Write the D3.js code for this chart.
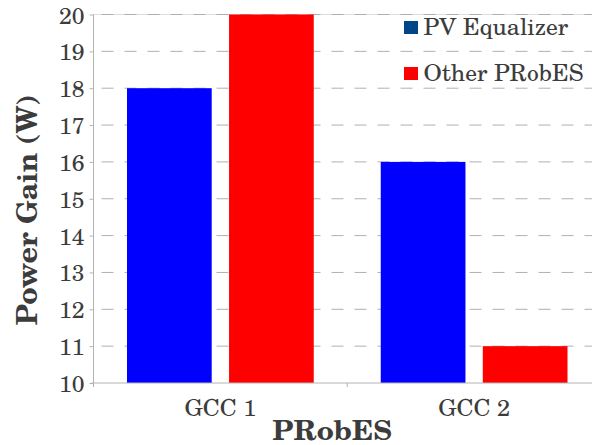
<!DOCTYPE html>
<html><head><meta charset="utf-8">
<script src="https://cdn.jsdelivr.net/npm/d3@7"></script>
<style>
html,body{margin:0;padding:0;background:#fff;}
svg{display:block;}
</style></head>
<body>
<script>
const categories = ["GCC 1", "GCC 2"];
const seriesNames = ["PV Equalizer", "Other PRobES"];
const pvEqualizer = [18, 16];
const otherPRobES = [20, 11];
const yTicks = [10, 11, 12, 13, 14, 15, 16, 17, 18, 19, 20];
const barColors = ["#0000ff", "#ff0000"];
const legendColors = ["#004586", "#ff0000"];
const xTitle = "PRobES";
const yTitle = "Power Gain (W)";

const FONT = '"TeX Gyre Schola","DejaVu Serif",serif';
const TXT = "#3c3c3c";
const W = 592, H = 445;
const m = {left: 93.5, top: 14.5, right: -9, bottom: 62};
const iw = W - m.left - m.right, ih = H - m.top - m.bottom;

const svg = d3.select("body").append("svg").attr("width", W).attr("height", H);
const g = svg.append("g").attr("transform", `translate(${m.left},${m.top})`);

const x0 = d3.scaleBand().domain(categories).range([0, iw]).paddingInner(0).paddingOuter(0);
const x1 = d3.scaleBand().domain(seriesNames).range([33.5, x0.bandwidth() - 33.5]).paddingInner(0.17);
const y = d3.scaleLinear().domain([10, 20]).range([ih, 0]);

// top border
g.append("line").attr("x1", 0).attr("x2", iw).attr("y1", 0).attr("y2", 0).attr("stroke", "#dcdcdc");
// gridlines
g.append("g").selectAll("line").data(yTicks.filter(d => d > 10)).join("line")
  .attr("x1", 0).attr("x2", iw).attr("y1", d => y(d)).attr("y2", d => y(d))
  .attr("stroke", "#b0b0b0").attr("stroke-dasharray", "12,11").attr("stroke-dashoffset", -8);

const data = categories.map((c, i) => ({cat: c, vals: [pvEqualizer[i], otherPRobES[i]]}));
g.append("g").selectAll("g").data(data).join("g")
  .attr("transform", d => `translate(${x0(d.cat)},0)`)
  .selectAll("rect").data(d => d.vals.map((v, j) => ({s: seriesNames[j], v, j}))).join("rect")
  .attr("x", d => x1(d.s)).attr("width", x1.bandwidth())
  .attr("y", d => y(d.v)).attr("height", d => y(10) - y(d.v))
  .attr("fill", d => barColors[d.j]);

// y axis
const yAxis = g.append("g").call(d3.axisLeft(y).tickValues(yTicks).tickSize(4).tickPadding(5).tickFormat(d3.format("d")));
yAxis.select(".domain").attr("stroke", "#b3b3b3").attr("d", `M0,${ih}V0`);
yAxis.selectAll(".tick line").attr("stroke", "#b3b3b3");
yAxis.selectAll("text").style("font-family", FONT).style("font-size", "23px").attr("fill", TXT).attr("dy", null).attr("y", 8.5);

// x axis
const xAxis = g.append("g").attr("transform", `translate(0,${ih})`)
  .call(d3.axisBottom(x0).tickSize(0).tickPadding(0));
xAxis.select(".domain").attr("stroke", "#b3b3b3").attr("d", `M-2,0H${iw}`);
xAxis.selectAll("text").style("font-family", FONT).style("font-size", "23.5px").attr("fill", TXT).attr("dy", null).attr("y", 33);
g.append("g").selectAll("line").data([0, x0.bandwidth(), iw]).join("line")
  .attr("x1", d => d).attr("x2", d => d).attr("y1", ih).attr("y2", ih + 4).attr("stroke", "#b3b3b3");

// titles
svg.append("text").attr("x", 332).attr("y", 440).attr("text-anchor", "middle")
  .style("font-family", FONT).style("font-size", "28px").style("font-weight", "bold").attr("fill", TXT).text(xTitle);
svg.append("text").attr("transform", "translate(37,210) rotate(-90)").attr("text-anchor", "middle")
  .style("font-family", FONT).style("font-size", "28.5px").style("font-weight", "bold").attr("fill", TXT).text(yTitle);

// legend
const lg = svg.append("g").selectAll("g").data(seriesNames).join("g")
  .attr("transform", (d, i) => `translate(404,${21 + i * 46})`);
lg.append("rect").attr("width", 14).attr("height", 13).attr("fill", (d, i) => legendColors[i]);
lg.append("text").attr("x", 19.5).attr("y", 14).style("font-family", FONT).style("font-size", "23.5px").attr("fill", TXT).text(d => d);
</script>
</body></html>
